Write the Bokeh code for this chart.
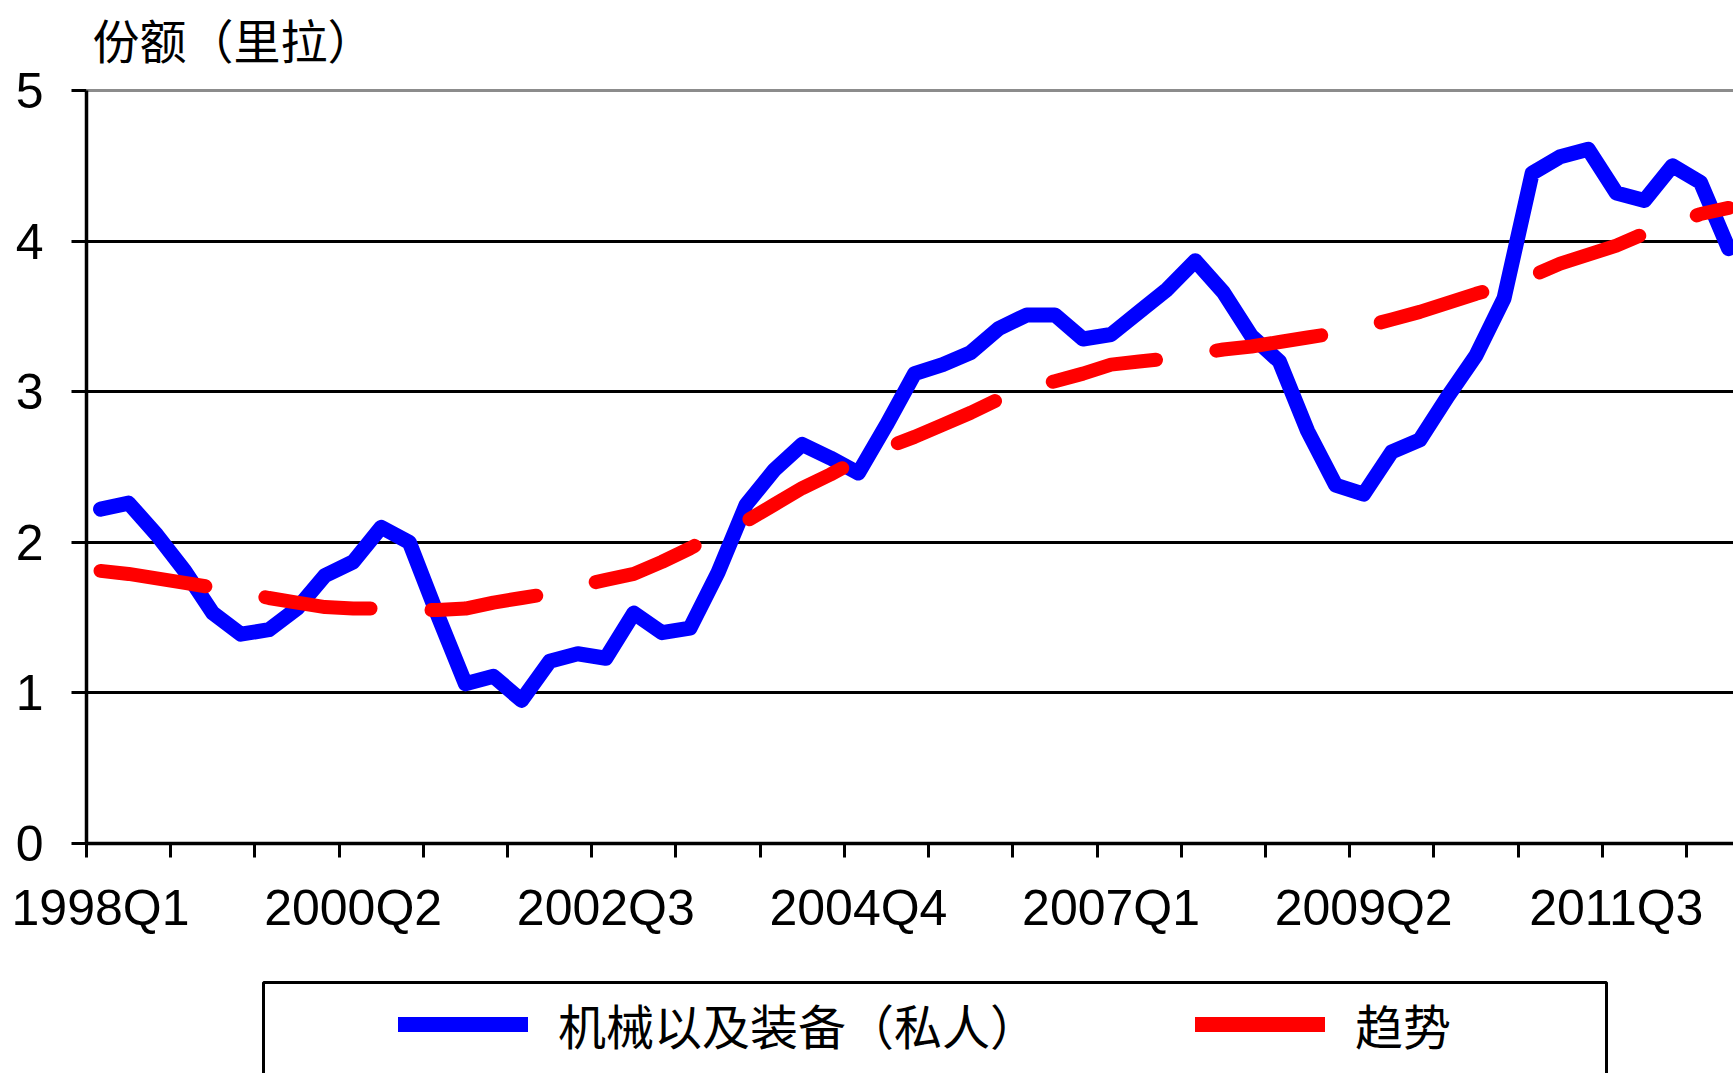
from bokeh.plotting import figure
from bokeh.layouts import column
from bokeh.models import (Range1d, FixedTicker, Legend, LegendItem, Label, Grid,
                          ColumnDataSource, BoxAnnotation)
from bokeh.embed import file_html
from bokeh.resources import INLINE

# ---------------- data ----------------
quarters = [f"{1998 + i // 4}Q{i % 4 + 1}" for i in range(59)]

machinery = [2.22, 2.26, 2.05, 1.81, 1.53, 1.39, 1.42, 1.56, 1.78, 1.87,
             2.10, 2.00, 1.52, 1.06, 1.11, 0.95, 1.21, 1.26, 1.23, 1.53,
             1.40, 1.43, 1.80, 2.25, 2.48, 2.65, 2.56, 2.46, 2.78, 3.12,
             3.18, 3.26, 3.42, 3.51, 3.51, 3.35, 3.38, 3.53, 3.68, 3.87,
             3.66, 3.37, 3.20, 2.74, 2.38, 2.32, 2.60, 2.68, 2.97, 3.24,
             3.62, 4.45, 4.56, 4.61, 4.32, 4.27, 4.50, 4.39, 3.95]

trend = [1.81, 1.79, 1.76, 1.73, 1.70, 1.67, 1.63, 1.60, 1.57, 1.56,
         1.56, 1.55, 1.55, 1.56, 1.60, 1.63, 1.66, 1.71, 1.75, 1.79,
         1.87, 1.96, 2.06, 2.14, 2.25, 2.36, 2.45, 2.55, 2.63, 2.70,
         2.78, 2.86, 2.95, 3.02, 3.07, 3.12, 3.18, 3.20, 3.22, 3.25,
         3.28, 3.30, 3.33, 3.36, 3.39, 3.43, 3.48, 3.53, 3.59, 3.65,
         3.70, 3.77, 3.85, 3.91, 3.97, 4.05, 4.11, 4.18, 4.22]

tick_label_quarters = ["1998Q1", "2000Q2", "2002Q3", "2004Q4", "2007Q1", "2009Q2", "2011Q3"]
y_ticks = [0, 1, 2, 3, 4, 5]
y_title = "份额（里拉）"
series_names = ["机械以及装备（私人）", "趋势"]

# ---------------- layout constants ----------------
W, H = 1733, 1073
LEG_H = 113                      # height of the legend strip at the bottom
H1 = H - LEG_H                   # main chart height
LEFT = 86
FRAME_H = 843                    # frame spans from very top down to the x axis
BOTTOM = H1 - FRAME_H
UNIT = 150.6                     # px per y unit
Y_END = FRAME_H / UNIT           # y value at top of frame (room for the title)
CAT_W = 28.07                    # px per quarter
X_END = -0.5 + (W - LEFT) / CAT_W

FONT = "Liberation Sans"
CJK = "Noto Sans CJK SC"
BLUE, RED = "#0000FF", "#FF0000"

idx = list(range(len(quarters)))
label_pos = [quarters.index(q) for q in tick_label_quarters]
minor_pos = [i - 0.5 for i in range(0, len(quarters), 3)]
src = ColumnDataSource(dict(x=idx, m=machinery, t=trend))

p = figure(width=W, height=H1, output_backend="svg", toolbar_location=None,
           x_range=Range1d(-0.5, X_END), y_range=Range1d(y_ticks[0], Y_END),
           min_border_left=LEFT, min_border_right=0, min_border_top=0,
           min_border_bottom=BOTTOM)
p.outline_line_color = None
p.background_fill_color = "white"
p.border_fill_color = "white"

# x axis
xa = p.xaxis[0]
xa.ticker = FixedTicker(ticks=label_pos, minor_ticks=minor_pos)
xa.major_label_overrides = {i: q for i, q in zip(label_pos, tick_label_quarters)}
xa.major_tick_out = 0
xa.major_tick_in = 0
xa.minor_tick_out = 14
xa.minor_tick_in = 0
xa.minor_tick_line_color = "black"
xa.minor_tick_line_width = 3
xa.major_label_standoff = 22

# y axis (line only from 0 to 5)
ya = p.yaxis[0]
ya.ticker = FixedTicker(ticks=y_ticks)
ya.bounds = (y_ticks[0], y_ticks[-1])
ya.major_tick_out = 15
ya.major_tick_in = 0
ya.major_tick_line_width = 3
ya.major_tick_line_color = "black"
ya.minor_tick_line_color = None
ya.major_label_standoff = 28

for ax in (xa, ya):
    ax.axis_line_color = "black"
    ax.axis_line_width = 3.5
    ax.major_label_text_font = FONT
    ax.major_label_text_font_size = "50px"
    ax.major_label_text_color = "black"

# grids
p.xgrid.visible = False
p.ygrid.ticker = FixedTicker(ticks=y_ticks[1:-1])
p.ygrid.grid_line_color = "black"
p.ygrid.grid_line_width = 3
top_grid = Grid(dimension=1, ticker=FixedTicker(ticks=[y_ticks[-1]]),
                grid_line_color="#8c8c8c", grid_line_width=3)
p.add_layout(top_grid)

# series
p.line("x", "m", source=src, line_color=BLUE, line_width=15,
       line_cap="round", line_join="round")
p.line("x", "t", source=src, line_color=RED, line_width=14,
       line_dash="106 61", line_cap="round", line_join="round")

# y title (inside the frame, above the 5 line)
title = Label(x=6, y=FRAME_H - 38, x_units="screen", y_units="screen",
              text=y_title, text_font=CJK, text_font_size="47px",
              text_color="black", text_baseline="middle", text_align="left")
p.add_layout(title)

# ---------------- legend strip (frame aligned with the chart: LEFT..W) ----------------
q = figure(width=W, height=LEG_H, output_backend="svg", toolbar_location=None,
           x_axis_location=None, y_axis_location=None,
           x_range=Range1d(LEFT, W), y_range=Range1d(0, LEG_H),
           min_border_left=LEFT, min_border_right=0, min_border_top=0,
           min_border_bottom=0)
q.outline_line_color = None
q.background_fill_color = "white"
q.border_fill_color = "white"
q.xgrid.visible = False
q.ygrid.visible = False
q.extra_y_ranges = {"hidden": Range1d(1000, 2000)}

box = BoxAnnotation(left=263, right=1606, top=LEG_H - 22, bottom=-20,
                    fill_color="white", fill_alpha=1.0,
                    line_color="black", line_alpha=1.0, line_width=3)
q.add_layout(box)

# same series on a hidden range: only their legend samples show
d1 = q.line("x", "m", source=src, y_range_name="hidden", line_color=BLUE,
            line_width=15, line_cap="round")
d2 = q.line("x", "t", source=src, y_range_name="hidden", line_color=RED,
            line_width=15, line_cap="round")

legend = Legend(items=[LegendItem(label=series_names[0], renderers=[d1]),
                       LegendItem(label=series_names[1], renderers=[d2])],
                orientation="horizontal", location=(398 - LEFT, 14),
                border_line_color=None, background_fill_alpha=0,
                label_text_font=CJK, label_text_font_size="48px",
                label_text_color="black",
                glyph_width=130, glyph_height=60, label_height=60,
                label_standoff=30, spacing=157, padding=0, margin=0)
q.add_layout(legend)

open("out.html", "w").write(file_html(column(p, q, spacing=0), INLINE))
